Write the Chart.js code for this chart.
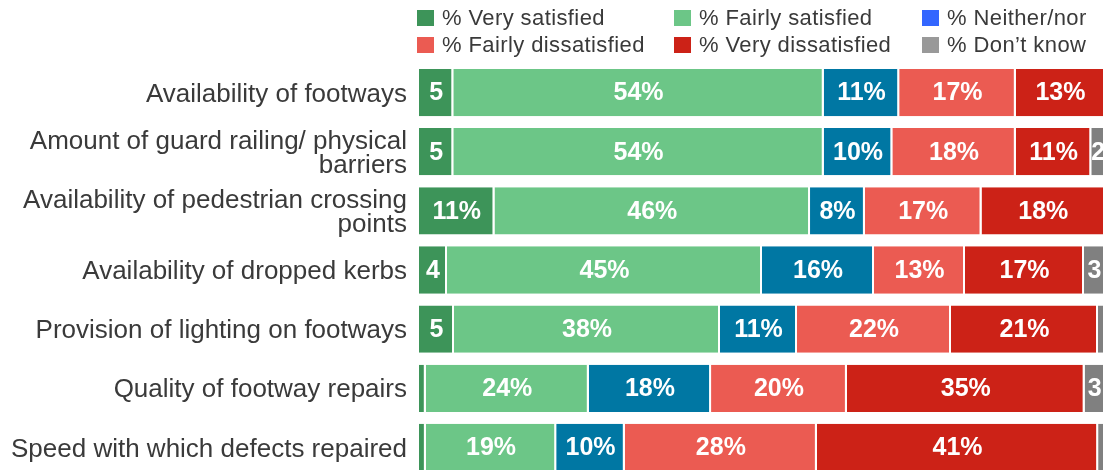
<!DOCTYPE html>
<html>
<head>
<meta charset="utf-8">
<script src="https://cdn.jsdelivr.net/npm/chart.js@4.4.1/dist/chart.umd.min.js"></script>
<style>
    html, body { margin: 0; padding: 0; background: #ffffff; overflow: hidden; }
    #wrap { width: 1108px; height: 477px; }
</style>
</head>
<body>
<div id="wrap"><canvas id="satisfactionChart" width="1108" height="477"></canvas></div>
<script>
// categories (top to bottom)
const categories = [
    'Availability of footways',
    ['Amount of guard railing/ physical', 'barriers'],
    ['Availability of pedestrian crossing', 'points'],
    'Availability of dropped kerbs',
    'Provision of lighting on footways',
    'Quality of footway repairs',
    'Speed with which defects repaired'
];

// survey answers, % per category
const verySatisfied     = [5, 5, 11, 4, 5, 1, 1];
const fairlySatisfied   = [54, 54, 46, 45, 38, 24, 19];
const neitherNor        = [11, 10, 8, 16, 11, 18, 10];
const fairlyDissatisfied = [17, 18, 17, 13, 22, 20, 28];
const veryDissatisfied  = [13, 11, 18, 17, 21, 35, 41];
const dontKnow          = [0, 2, 0, 3, 1, 3, 1];

const seriesNames = ['% Very satisfied', '% Fairly satisfied', '% Neither/nor',
    '% Fairly dissatisfied', '% Very dissatisfied', '% Don\u2019t know'];
const seriesValues = [verySatisfied, fairlySatisfied, neitherNor,
    fairlyDissatisfied, veryDissatisfied, dontKnow];
const barColors    = ['#3d9459', '#6cc687', '#0077a3', '#eb5b52', '#cc2217', '#808080'];
const legendColors = ['#3d9459', '#6cc687', '#3366ff', '#eb5b52', '#cc2217', '#999999'];

// 100% stacked: each row scaled to its own total
const rowTotals = categories.map((c, i) => seriesValues.reduce((s, arr) => s + arr[i], 0));

const datasets = seriesNames.map((name, k) => ({
    label: name,
    data: seriesValues[k].map((v, i) => v / rowTotals[i] * 100),
    raw: seriesValues[k],
    backgroundColor: barColors[k],
    borderColor: '#ffffff',
    borderWidth: { top: 0, right: 2, bottom: 0, left: 0 },
    borderSkipped: false,
    barPercentage: 1,
    categoryPercentage: 0.8
}));

const FONT = "'Liberation Sans', Arial, Helvetica, sans-serif";

// white value text inside each segment
const segmentLabels = {
    id: 'segmentLabels',
    afterDatasetsDraw(chart) {
        const ctx = chart.ctx;
        ctx.save();
        ctx.fillStyle = '#ffffff';
        ctx.font = 'bold 25px ' + FONT;
        ctx.textAlign = 'center';
        ctx.textBaseline = 'middle';
        chart.data.datasets.forEach((ds, di) => {
            const meta = chart.getDatasetMeta(di);
            meta.data.forEach((bar, i) => {
                const v = ds.raw[i];
                if (v < 2) return;
                const txt = v >= 8 ? v + '%' : String(v);
                const cx = (bar.x + bar.base) / 2;
                ctx.fillText(txt, cx, bar.y + 1);
            });
        });
        ctx.restore();
    }
};

// legend drawn as a 3 column grid above the bars
const gridLegend = {
    id: 'gridLegend',
    afterDraw(chart) {
        const ctx = chart.ctx;
        const cols = [417, 674, 922];
        const rows = [18, 45];
        ctx.save();
        ctx.font = '22px ' + FONT;
        if ('letterSpacing' in ctx) ctx.letterSpacing = '0.4px';
        ctx.textBaseline = 'middle';
        ctx.textAlign = 'left';
        chart.data.datasets.forEach((ds, k) => {
            const x = cols[k % 3];
            const y = rows[Math.floor(k / 3)];
            ctx.fillStyle = legendColors[k];
            ctx.fillRect(x, y - 8, 17, 16);
            ctx.fillStyle = '#3a3a3a';
            ctx.fillText(ds.label, x + 25, y + 1);
        });
        ctx.restore();
    }
};

new Chart(document.getElementById('satisfactionChart').getContext('2d'), {
    type: 'bar',
    data: { labels: categories, datasets: datasets },
    options: {
        indexAxis: 'y',
        responsive: false,
        animation: false,
        layout: { padding: { top: 63, right: 3, bottom: 0, left: 0 } },
        scales: {
            x: {
                stacked: true,
                display: false,
                min: 0,
                max: 100
            },
            y: {
                stacked: true,
                grid: { display: false, drawTicks: false },
                border: { display: false },
                ticks: {
                    color: '#3a3a3a',
                    padding: 12,
                    labelOffset: 2,
                    font: { family: FONT, size: 26, lineHeight: 0.95 }
                },
                afterFit(scale) {
                    scale.width = 419;
                    scale.paddingTop = 0;
                    scale.paddingBottom = 0;
                }
            }
        },
        plugins: {
            legend: { display: false },
            tooltip: { enabled: false }
        }
    },
    plugins: [segmentLabels, gridLegend]
});
</script>
</body>
</html>
